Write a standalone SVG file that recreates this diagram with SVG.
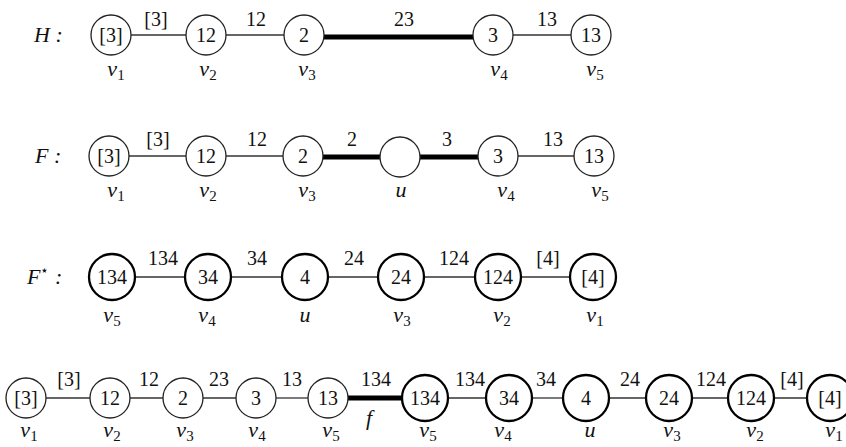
<svg xmlns="http://www.w3.org/2000/svg" width="846" height="447" viewBox="0 0 846 447">
<style>
text, tspan{font-family:"Liberation Serif","Times New Roman",serif !important}
.n{fill:#fff;stroke:#222;stroke-width:1.3}
.nt{fill:#fff;stroke:#000;stroke-width:2.3}
.e{stroke:#333;stroke-width:1.3}
.et{stroke:#000;stroke-width:5}
.t{font-size:20px;fill:#111;text-anchor:middle}
.i{font-style:italic}
.v{font-size:22px;fill:#111;text-anchor:middle}
.s{font-size:15px;font-style:normal}
.rl{font-size:22px;fill:#111;text-anchor:start;font-style:italic}
</style>
<rect width="846" height="447" fill="#fff"/>
<g id="connectors">
<line class="e" x1="131" y1="35" x2="186" y2="35"/>
<line class="e" x1="226" y1="35" x2="284" y2="35"/>
<line class="et" x1="324" y1="37" x2="473" y2="37"/>
<line class="e" x1="513" y1="35" x2="571" y2="35"/>
<line class="e" x1="129" y1="156" x2="186" y2="156"/>
<line class="e" x1="226" y1="156" x2="283" y2="156"/>
<line class="et" x1="323" y1="157" x2="380" y2="157"/>
<line class="et" x1="420" y1="157" x2="478" y2="157"/>
<line class="e" x1="518" y1="156" x2="574" y2="156"/>
<line class="e" x1="135" y1="277" x2="185" y2="277"/>
<line class="e" x1="231" y1="277" x2="282" y2="277"/>
<line class="e" x1="328" y1="277" x2="378" y2="277"/>
<line class="e" x1="424" y1="277" x2="475" y2="277"/>
<line class="e" x1="521" y1="277" x2="570" y2="277"/>
<line class="e" x1="46" y1="398" x2="90" y2="398"/>
<line class="e" x1="130" y1="398" x2="163" y2="398"/>
<line class="e" x1="203" y1="398" x2="236" y2="398"/>
<line class="e" x1="276" y1="398" x2="308" y2="398"/>
<line class="et" x1="348" y1="398" x2="402" y2="398"/>
<line class="e" x1="448" y1="398" x2="486" y2="398"/>
<line class="e" x1="532" y1="398" x2="563" y2="398"/>
<line class="e" x1="609" y1="398" x2="646" y2="398"/>
<line class="e" x1="692" y1="398" x2="728" y2="398"/>
<line class="e" x1="774" y1="398" x2="807" y2="398"/>
</g>
<g id="edge-labels">
<text class="t" font-family="Liberation Serif" x="156" y="26">[3]</text>
<text class="t" font-family="Liberation Serif" x="256" y="26">12</text>
<text class="t" font-family="Liberation Serif" x="404" y="26">23</text>
<text class="t" font-family="Liberation Serif" x="547" y="26">13</text>
<text class="t" font-family="Liberation Serif" x="158" y="146">[3]</text>
<text class="t" font-family="Liberation Serif" x="257" y="146">12</text>
<text class="t" font-family="Liberation Serif" x="352" y="146">2</text>
<text class="t" font-family="Liberation Serif" x="447" y="146">3</text>
<text class="t" font-family="Liberation Serif" x="553" y="146">13</text>
<text class="t" font-family="Liberation Serif" x="163" y="265">134</text>
<text class="t" font-family="Liberation Serif" x="257" y="265">34</text>
<text class="t" font-family="Liberation Serif" x="354" y="265">24</text>
<text class="t" font-family="Liberation Serif" x="454" y="265">124</text>
<text class="t" font-family="Liberation Serif" x="548" y="265">[4]</text>
<text class="t" font-family="Liberation Serif" x="69" y="386">[3]</text>
<text class="t" font-family="Liberation Serif" x="149" y="386">12</text>
<text class="t" font-family="Liberation Serif" x="219" y="386">23</text>
<text class="t" font-family="Liberation Serif" x="292" y="386">13</text>
<text class="t" font-family="Liberation Serif" x="376" y="386">134</text>
<text class="t" font-family="Liberation Serif" x="470" y="386">134</text>
<text class="t" font-family="Liberation Serif" x="546" y="386">34</text>
<text class="t" font-family="Liberation Serif" x="630" y="386">24</text>
<text class="t" font-family="Liberation Serif" x="711" y="386">124</text>
<text class="t" font-family="Liberation Serif" x="792" y="386">[4]</text>
<text class="v i" font-family="Liberation Serif" x="369" y="425">f</text>
</g>
<g id="row-labels">
<text class="rl" font-family="Liberation Serif" x="34" y="42">H :</text>
<text class="rl" font-family="Liberation Serif" x="35" y="163">F :</text>
<text class="rl" font-family="Liberation Serif" x="27" y="284">F<tspan font-size="14" font-style="normal" dy="-9">⋆</tspan><tspan dy="9"> :</tspan></text>
</g>
<g id="H-v1"><circle class="n" cx="111" cy="35" r="20"/><text class="t" font-family="Liberation Serif" x="111" y="42">[3]</text><text class="v" font-family="Liberation Serif" x="116" y="76"><tspan class="i">v</tspan><tspan class="s" dy="4">1</tspan></text></g>
<g id="H-v2"><circle class="n" cx="206" cy="35" r="20"/><text class="t" font-family="Liberation Serif" x="206" y="42">12</text><text class="v" font-family="Liberation Serif" x="208" y="76"><tspan class="i">v</tspan><tspan class="s" dy="4">2</tspan></text></g>
<g id="H-v3"><circle class="n" cx="304" cy="35" r="20"/><text class="t" font-family="Liberation Serif" x="304" y="42">2</text><text class="v" font-family="Liberation Serif" x="307" y="76"><tspan class="i">v</tspan><tspan class="s" dy="4">3</tspan></text></g>
<g id="H-v4"><circle class="n" cx="493" cy="35" r="20"/><text class="t" font-family="Liberation Serif" x="493" y="42">3</text><text class="v" font-family="Liberation Serif" x="499" y="76"><tspan class="i">v</tspan><tspan class="s" dy="4">4</tspan></text></g>
<g id="H-v5"><circle class="n" cx="591" cy="35" r="20"/><text class="t" font-family="Liberation Serif" x="591" y="42">13</text><text class="v" font-family="Liberation Serif" x="595" y="76"><tspan class="i">v</tspan><tspan class="s" dy="4">5</tspan></text></g>
<g id="F-v1"><circle class="n" cx="109" cy="156" r="20"/><text class="t" font-family="Liberation Serif" x="109" y="163">[3]</text><text class="v" font-family="Liberation Serif" x="116" y="197"><tspan class="i">v</tspan><tspan class="s" dy="4">1</tspan></text></g>
<g id="F-v2"><circle class="n" cx="206" cy="156" r="20"/><text class="t" font-family="Liberation Serif" x="206" y="163">12</text><text class="v" font-family="Liberation Serif" x="208" y="197"><tspan class="i">v</tspan><tspan class="s" dy="4">2</tspan></text></g>
<g id="F-v3"><circle class="n" cx="303" cy="156" r="20"/><text class="t" font-family="Liberation Serif" x="303" y="163">2</text><text class="v" font-family="Liberation Serif" x="307" y="197"><tspan class="i">v</tspan><tspan class="s" dy="4">3</tspan></text></g>
<g id="F-u"><circle class="n" cx="400" cy="157" r="20"/><text class="v i" font-family="Liberation Serif" x="401" y="197">u</text></g>
<g id="F-v4"><circle class="n" cx="498" cy="156" r="20"/><text class="t" font-family="Liberation Serif" x="498" y="163">3</text><text class="v" font-family="Liberation Serif" x="506" y="197"><tspan class="i">v</tspan><tspan class="s" dy="4">4</tspan></text></g>
<g id="F-v5"><circle class="n" cx="594" cy="156" r="20"/><text class="t" font-family="Liberation Serif" x="594" y="163">13</text><text class="v" font-family="Liberation Serif" x="600" y="197"><tspan class="i">v</tspan><tspan class="s" dy="4">5</tspan></text></g>
<g id="Fs-v5"><circle class="nt" cx="112" cy="277" r="23"/><text class="t" font-family="Liberation Serif" x="112" y="284">134</text><text class="v" font-family="Liberation Serif" x="112" y="322"><tspan class="i">v</tspan><tspan class="s" dy="4">5</tspan></text></g>
<g id="Fs-v4"><circle class="nt" cx="208" cy="277" r="23"/><text class="t" font-family="Liberation Serif" x="208" y="284">34</text><text class="v" font-family="Liberation Serif" x="207" y="322"><tspan class="i">v</tspan><tspan class="s" dy="4">4</tspan></text></g>
<g id="Fs-u"><circle class="nt" cx="305" cy="277" r="23"/><text class="t" font-family="Liberation Serif" x="305" y="284">4</text><text class="v i" font-family="Liberation Serif" x="305" y="322">u</text></g>
<g id="Fs-v3"><circle class="nt" cx="401" cy="277" r="23"/><text class="t" font-family="Liberation Serif" x="401" y="284">24</text><text class="v" font-family="Liberation Serif" x="402" y="322"><tspan class="i">v</tspan><tspan class="s" dy="4">3</tspan></text></g>
<g id="Fs-v2"><circle class="nt" cx="498" cy="277" r="23"/><text class="t" font-family="Liberation Serif" x="498" y="284">124</text><text class="v" font-family="Liberation Serif" x="502" y="322"><tspan class="i">v</tspan><tspan class="s" dy="4">2</tspan></text></g>
<g id="Fs-v1"><circle class="nt" cx="593" cy="277" r="23"/><text class="t" font-family="Liberation Serif" x="593" y="284">[4]</text><text class="v" font-family="Liberation Serif" x="595" y="322"><tspan class="i">v</tspan><tspan class="s" dy="4">1</tspan></text></g>
<g id="B-v1"><circle class="n" cx="26" cy="398" r="20"/><text class="t" font-family="Liberation Serif" x="26" y="405">[3]</text><text class="v" font-family="Liberation Serif" x="29" y="437"><tspan class="i">v</tspan><tspan class="s" dy="4">1</tspan></text></g>
<g id="B-v2"><circle class="n" cx="110" cy="398" r="20"/><text class="t" font-family="Liberation Serif" x="110" y="405">12</text><text class="v" font-family="Liberation Serif" x="112" y="437"><tspan class="i">v</tspan><tspan class="s" dy="4">2</tspan></text></g>
<g id="B-v3"><circle class="n" cx="183" cy="398" r="20"/><text class="t" font-family="Liberation Serif" x="183" y="405">2</text><text class="v" font-family="Liberation Serif" x="185" y="437"><tspan class="i">v</tspan><tspan class="s" dy="4">3</tspan></text></g>
<g id="B-v4"><circle class="n" cx="256" cy="398" r="20"/><text class="t" font-family="Liberation Serif" x="256" y="405">3</text><text class="v" font-family="Liberation Serif" x="257" y="437"><tspan class="i">v</tspan><tspan class="s" dy="4">4</tspan></text></g>
<g id="B-v5"><circle class="n" cx="328" cy="398" r="20"/><text class="t" font-family="Liberation Serif" x="328" y="405">13</text><text class="v" font-family="Liberation Serif" x="331" y="437"><tspan class="i">v</tspan><tspan class="s" dy="4">5</tspan></text></g>
<g id="B-v5s"><circle class="nt" cx="425" cy="398" r="23"/><text class="t" font-family="Liberation Serif" x="425" y="405">134</text><text class="v" font-family="Liberation Serif" x="428" y="437"><tspan class="i">v</tspan><tspan class="s" dy="4">5</tspan></text></g>
<g id="B-v4s"><circle class="nt" cx="509" cy="398" r="23"/><text class="t" font-family="Liberation Serif" x="509" y="405">34</text><text class="v" font-family="Liberation Serif" x="503" y="437"><tspan class="i">v</tspan><tspan class="s" dy="4">4</tspan></text></g>
<g id="B-us"><circle class="nt" cx="586" cy="398" r="23"/><text class="t" font-family="Liberation Serif" x="586" y="405">4</text><text class="v i" font-family="Liberation Serif" x="590" y="437">u</text></g>
<g id="B-v3s"><circle class="nt" cx="669" cy="398" r="23"/><text class="t" font-family="Liberation Serif" x="669" y="405">24</text><text class="v" font-family="Liberation Serif" x="672" y="437"><tspan class="i">v</tspan><tspan class="s" dy="4">3</tspan></text></g>
<g id="B-v2s"><circle class="nt" cx="751" cy="398" r="23"/><text class="t" font-family="Liberation Serif" x="751" y="405">124</text><text class="v" font-family="Liberation Serif" x="755" y="437"><tspan class="i">v</tspan><tspan class="s" dy="4">2</tspan></text></g>
<g id="B-v1s"><circle class="nt" cx="830" cy="398" r="23"/><text class="t" font-family="Liberation Serif" x="830" y="405">[4]</text><text class="v" font-family="Liberation Serif" x="834" y="437"><tspan class="i">v</tspan><tspan class="s" dy="4">1</tspan></text></g>
</svg>
